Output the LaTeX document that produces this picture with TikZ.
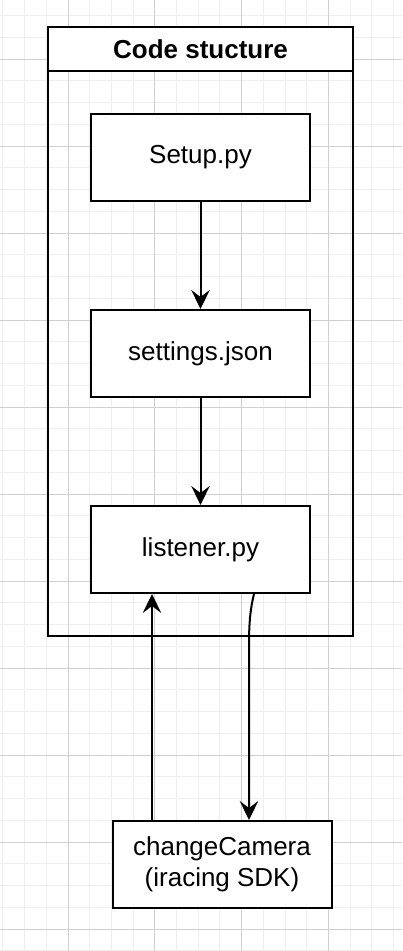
\documentclass[tikz,border=0pt]{standalone}
\usepackage{fontspec}
\setmainfont{Liberation Sans}
\usetikzlibrary{arrows.meta}
\definecolor{gridminor}{HTML}{EEEEEE}
\definecolor{gridmajor}{HTML}{D0D0D0}
\begin{document}
\begin{tikzpicture}[x=1pt,y=-1pt,
  txt/.style={font=\fontsize{26}{31.5}\selectfont, align=center},
  box/.style={draw=black, line width=2pt, fill=white, minimum width=219pt, minimum height=87pt, inner sep=0pt, txt},
  conn/.style={line width=2pt, -{Stealth[length=19pt,width=18.5pt,inset=7pt]}}]
\useasboundingbox (0,0) rectangle (402,951);
\fill[white] (0,0) rectangle (402,951);
% grid
\foreach \i in {0,...,18} \draw[gridminor, line width=1pt] ({2.9+21.7*\i},0) -- ({2.9+21.7*\i},951);
\foreach \j in {0,...,43} \draw[gridminor, line width=1pt] (0,{15.5+21.75*\j}) -- (402,{15.5+21.75*\j});
\foreach \i in {0,...,3} \draw[gridmajor, line width=1pt] ({68+86.8*\i},0) -- ({68+86.8*\i},951);
\foreach \j in {0,...,10} \draw[gridmajor, line width=1pt] (0,{59+87*\j}) -- (402,{59+87*\j});
% container
\node (frame) [draw=black, line width=2pt, minimum width=305pt, minimum height=609pt, inner sep=0pt] at (200.5,331.5) {};
\node (title) [draw=black, line width=2pt, fill=white, minimum width=305pt, minimum height=44pt, inner sep=0pt, txt, anchor=north] at (frame.north) {\bfseries Code stucture};
% boxes
\node[box] (setup) at (200.5,157.5) {Setup.py};
\node[box] (settings) at (200.5,353.5) {settings.json};
\node[box] (listener) at (200.5,549.5) {listener.py};
\node[box] (cam) at (222,864.5) {changeCamera\\(iracing SDK)};
% connectors
\coordinate (ux) at (152,0);
\coordinate (dx1) at (254,0);
\coordinate (dx2) at (249,0);
\draw[conn] (setup) -- (settings);
\draw[conn] (settings) -- (listener);
\draw[conn] (cam.north -| ux) -- (listener.south -| ux);
\draw[conn] (listener.south -| dx1) .. controls (250.5,608) and (249,622) .. (249,645) -- (cam.north -| dx2);
\end{tikzpicture}
\end{document}
